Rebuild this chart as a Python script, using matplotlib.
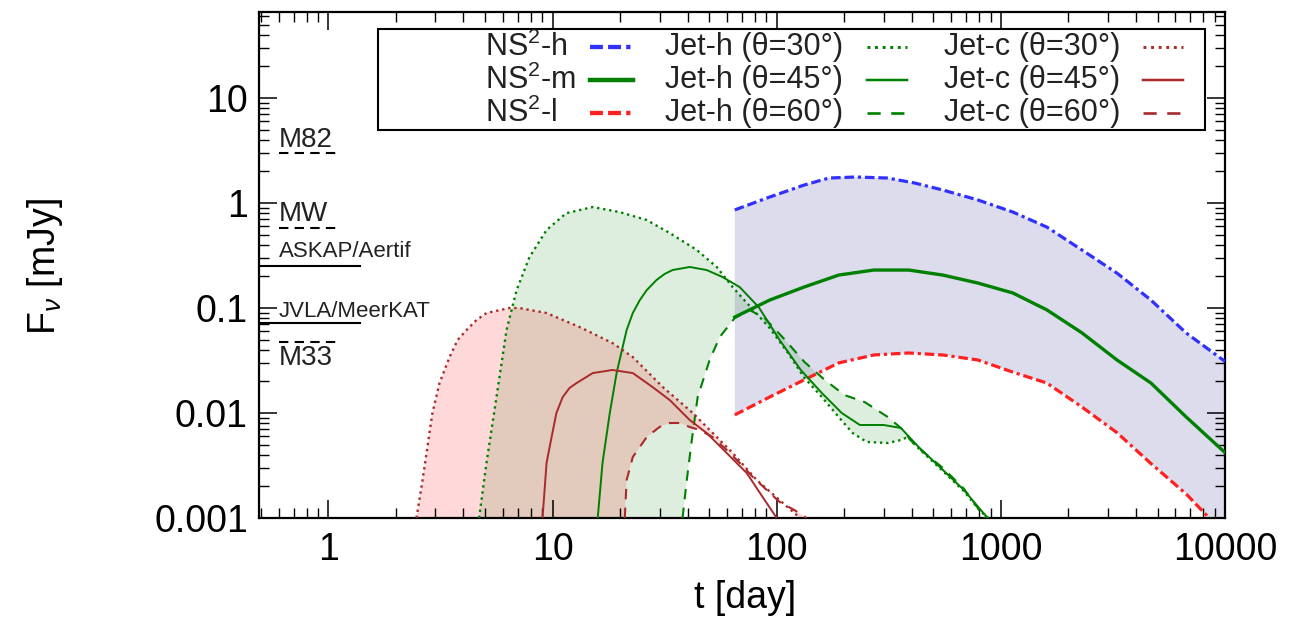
import matplotlib
matplotlib.use('Agg')
import matplotlib.pyplot as plt
import numpy as np
from matplotlib.lines import Line2D
from matplotlib.patches import Rectangle
from matplotlib.ticker import FixedLocator, LogLocator, NullFormatter, FuncFormatter

plt.rcParams['font.family'] = 'Liberation Sans'
plt.rcParams['mathtext.fontset'] = 'custom'
plt.rcParams['mathtext.rm'] = 'Liberation Sans'
plt.rcParams['mathtext.it'] = 'Liberation Sans:italic'
plt.rcParams['mathtext.bf'] = 'Liberation Sans:bold'

# NS^2 (cocoon) light curves, t [day], F [mJy]
t_nsh = [65, 93, 132, 171, 225, 313, 413, 551, 789, 1132, 1604, 2300, 3296, 4674, 6699, 10000]
f_nsh = [0.86, 1.14, 1.48, 1.73, 1.77, 1.73, 1.55, 1.33, 1.07, 0.82, 0.59, 0.357, 0.215, 0.119, 0.058, 0.031]
t_nsm = [65, 93, 132, 189, 271, 388, 551, 789, 1132, 1604, 2300, 3296, 4674, 6699, 10000]
f_nsm = [0.082, 0.119, 0.158, 0.206, 0.23, 0.23, 0.206, 0.173, 0.139, 0.096, 0.058, 0.032, 0.0193, 0.0092, 0.0042]
t_nsl = [65, 93, 132, 189, 271, 388, 551, 789, 1132, 1604, 2300, 3296, 4674, 6699, 8500, 10000]
f_nsl = [0.0096, 0.0142, 0.0206, 0.030, 0.0357, 0.0373, 0.0357, 0.032, 0.0245, 0.0193, 0.0114, 0.0065,
         0.0033, 0.0017, 0.001, 0.0007]

# Jet-h
t_jh30 = [4.7, 5.07, 5.62, 6.23, 6.91, 7.89, 9.4, 11.5, 15.1, 19.9, 26.3, 33.3, 44, 54, 63.6, 73.5, 84, 93,
          114, 132, 159, 189, 218, 252, 313, 358, 384, 430, 551, 684, 814, 880]
f_jh30 = [0.001, 0.00334, 0.0142, 0.0616, 0.148, 0.306, 0.553, 0.80, 0.916, 0.82, 0.689, 0.518, 0.357, 0.246,
          0.158, 0.112, 0.082, 0.0645, 0.0357, 0.022, 0.0142, 0.00916, 0.00645, 0.0053, 0.00518, 0.00553,
          0.0059, 0.0046, 0.0028, 0.0018, 0.00115, 0.001]
t_jh45 = [15.9, 16.7, 18.0, 19.3, 21.4, 22.8, 24.5, 26.3, 29.1, 31.6, 34.3, 40.9, 48.7, 57.4, 68.4, 83.1, 103,
          128, 159, 195, 235, 300, 358, 430, 551, 684, 814, 875]
f_jh45 = [0.001, 0.00334, 0.01, 0.024, 0.0617, 0.0896, 0.119, 0.148, 0.185, 0.211, 0.23, 0.246, 0.23, 0.197,
          0.158, 0.102, 0.0496, 0.0257, 0.0155, 0.01, 0.00769, 0.00769, 0.0072, 0.00474, 0.00287, 0.00185,
          0.00119, 0.001]
t_jh60 = [38, 39.7, 41.8, 44.4, 50.2, 55.7, 64.9, 75.7, 88.4, 109, 133, 164, 201, 247, 313, 358, 413, 551,
          684, 850]
f_jh60 = [0.001, 0.0023, 0.00553, 0.0142, 0.032, 0.053, 0.080, 0.0957, 0.080, 0.0496, 0.0306, 0.0206,
          0.0148, 0.0127, 0.00916, 0.0072, 0.00495, 0.003, 0.0019, 0.001]

# Jet-c
t_jc30 = [2.47, 2.63, 2.91, 3.13, 3.47, 3.77, 4.13, 4.58, 5.07, 6.43, 7.12, 9.4, 13.2, 18.5, 22.8, 31, 42.2,
          51.8, 63.6, 81.4, 103, 127]
f_jc30 = [0.001, 0.0023, 0.01, 0.0193, 0.0341, 0.0496, 0.0617, 0.0769, 0.0896, 0.1, 0.1, 0.0896, 0.0659,
          0.0464, 0.0341, 0.0177, 0.01, 0.00645, 0.00416, 0.0023, 0.00148, 0.001]
t_jc45 = [9.02, 9.4, 9.7, 10.4, 11.1, 11.9, 12.8, 15.1, 18.5, 22.8, 27.9, 33.3, 40.9, 48.7, 59.8, 73.5,
          86.6, 100]
f_jc45 = [0.001, 0.00334, 0.00474, 0.01, 0.0142, 0.0173, 0.0193, 0.024, 0.0257, 0.024, 0.0177, 0.0133,
          0.00858, 0.00645, 0.00416, 0.00268, 0.00158, 0.001]
t_jc60 = [21, 21.4, 22.8, 26.3, 30, 33.3, 36.9, 40.9, 45.3, 51.8, 59.8, 68.4, 78.2, 90.2, 103, 120, 136]
f_jc60 = [0.001, 0.0023, 0.00381, 0.0059, 0.00736, 0.00803, 0.00803, 0.00736, 0.00689, 0.0059, 0.00444,
          0.00334, 0.00246, 0.00185, 0.00142, 0.00119, 0.001]

# sensitivity / galaxy reference levels
ref_names = ['M82', 'MW', 'ASKAP/Aertif', 'JVLA/MeerKAT', 'M33']
ref_flux = [3.0, 0.58, 0.25, 0.072, 0.047]
ref_t0 = [0.6, 0.6, 0.49, 0.49, 0.6]
ref_t1 = [1.12, 1.12, 1.39, 1.39, 1.12]
ref_dashed = [True, True, False, False, True]
ref_size = [20, 20, 16, 16, 20]
ref_offset = [4.3, 5, 6.5, 4.3, -16.5]

x_ticks = [1, 10, 100, 1000, 10000]
y_ticks = [0.001, 0.01, 0.1, 1, 10]

blue = '#3030ff'
green = '#008000'
red = '#ff2020'
dred = '#a82a2a'

W, H = 1296, 643
fig = plt.figure(figsize=(W / 100, H / 100), dpi=100)
ax = fig.add_axes([259 / W, 1 - 518 / H, (1225 - 259) / W, (518 - 12) / H])
ax.set_xscale('log')
ax.set_yscale('log')

# shaded bands
ax.fill(np.r_[t_nsh, t_nsl[::-1]], np.r_[f_nsh, f_nsl[::-1]], color='#4040a0', alpha=0.18, lw=0, zorder=1)
ax.fill(np.r_[t_jh30, t_jh60[::-1]], np.r_[f_jh30, f_jh60[::-1]], color=green, alpha=0.13, lw=0, zorder=1)
ax.fill(np.r_[t_jc30, t_jc60[::-1]], np.r_[f_jc30, f_jc60[::-1]], color='#ff0000', alpha=0.15, lw=0, zorder=1)

dashdot = (0, (3, 1.2, 3, 1.2, 1, 1.2))
dot = (0, (1, 1.6))
dash = (0, (5, 4))

series = [
    (t_nsh, f_nsh, 'NS$^2$-h', blue, dashdot, 2.3),
    (t_nsm, f_nsm, 'NS$^2$-m', green, '-', 2.4),
    (t_nsl, f_nsl, 'NS$^2$-l', red, dashdot, 2.3),
    (t_jh30, f_jh30, 'Jet-h (θ=30°)', green, dot, 1.7),
    (t_jh45, f_jh45, 'Jet-h (θ=45°)', green, '-', 1.4),
    (t_jh60, f_jh60, 'Jet-h (θ=60°)', green, dash, 1.5),
    (t_jc30, f_jc30, 'Jet-c (θ=30°)', dred, dot, 1.7),
    (t_jc45, f_jc45, 'Jet-c (θ=45°)', dred, '-', 1.4),
    (t_jc60, f_jc60, 'Jet-c (θ=60°)', dred, dash, 1.5),
]
for t, f, lab, c, ls, lw in series:
    ax.plot(t, f, color=c, linestyle=ls, lw=lw, zorder=3)

# reference levels on the left
for name, fl, a, b, dsh, fs, off in zip(ref_names, ref_flux, ref_t0, ref_t1, ref_dashed, ref_size, ref_offset):
    ax.plot([a, b], [fl, fl], color='black', lw=1.5, linestyle=(0, (4.5, 3)) if dsh else '-', zorder=3)
    ax.annotate(name, (0.6, fl), xytext=(0, off), textcoords='offset points', fontsize=fs,
                va='baseline', ha='left', color='#222222')

ax.set_xlim(0.49, 1e4)
ax.set_ylim(1e-3, 66)

fmt = FuncFormatter(lambda v, p: '%g' % v)
ax.xaxis.set_major_locator(FixedLocator(x_ticks))
ax.yaxis.set_major_locator(FixedLocator(y_ticks))
ax.xaxis.set_major_formatter(fmt)
ax.yaxis.set_major_formatter(fmt)
ax.xaxis.set_minor_locator(LogLocator(base=10, subs=np.arange(2, 10), numticks=30))
ax.yaxis.set_minor_locator(LogLocator(base=10, subs=np.arange(2, 10), numticks=30))
ax.xaxis.set_minor_formatter(NullFormatter())
ax.yaxis.set_minor_formatter(NullFormatter())
ax.tick_params(which='both', direction='in', top=True, right=True)
ax.tick_params(which='major', length=13, width=1.1, labelsize=27)
ax.tick_params(axis='x', which='major', pad=10)
ax.tick_params(axis='y', which='major', pad=8)
ax.tick_params(which='minor', length=7, width=1.0)
for s in ax.spines.values():
    s.set_linewidth(1.6)

ax.set_xlabel('t [day]', fontsize=27)
ax.xaxis.label.set_va('center')
ax.xaxis.set_label_coords(0.503, -0.158)
ax.set_ylabel(r'F$_\nu$ [mJy]', fontsize=27)
ax.yaxis.label.set_va('center')
ax.yaxis.set_label_coords(-0.2215, 0.496)

# legend box drawn gnuplot style: text then sample
fx = lambda px: px / W
fy = lambda py: 1 - py / H
fig.add_artist(Rectangle((fx(378), fy(130)), (1205 - 378) / W, (130 - 29) / H, transform=fig.transFigure,
                         facecolor='white', edgecolor='black', lw=1.5, zorder=5))
rows = [47, 80, 113]
cols = [(485, 'left', 590, 633), (843, 'right', 867, 907), (1120, 'right', 1143, 1183)]
for i, (t, f, lab, c, ls, lw) in enumerate(series):
    tx, ha, s0, s1 = cols[i // 3]
    yy = rows[i % 3]
    fig.text(fx(tx), fy(yy), lab, ha=ha, va='center', fontsize=22, color='#222222', zorder=6)
    fig.add_artist(Line2D([fx(s0), fx(s1)], [fy(yy), fy(yy)], transform=fig.transFigure, color=c,
                          linestyle=ls, lw=lw + 0.8 if i < 3 else lw + 0.4, zorder=6))

fig.savefig('out.png', dpi=100)
